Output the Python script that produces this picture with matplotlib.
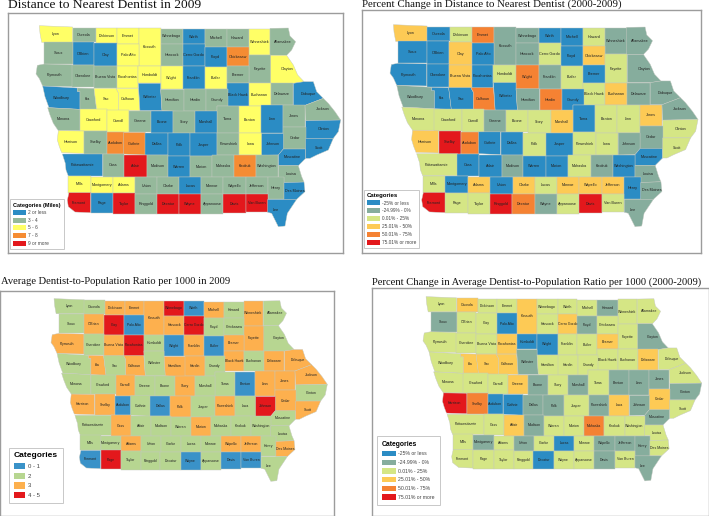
import matplotlib
matplotlib.use('Agg')
import matplotlib.pyplot as plt
from matplotlib.patches import Polygon, Patch

W = 709
H = 516


def rect(x0, x1, y0, y1):
    return [(x0, y0), (x1, y0), (x1, y1), (x0, y1)]


# county outlines
counties = {
    'Lyon': [(118, 77), (218, 81), (218, 127), (125, 127), (120, 100)],
    'Osceola': rect(218, 287, 83, 127),
    'Dickinson': rect(287, 352, 84, 130),
    'Emmet': rect(352, 417, 85, 132),
    'Kossuth': rect(417, 482, 85, 198),
    'Winnebago': rect(482, 549, 86, 133),
    'Worth': rect(549, 614, 86, 133),
    'Mitchell': rect(614, 680, 87, 142),
    'Howard': rect(680, 746, 87, 142),
    'Winneshiek': rect(746, 810, 86, 166),
    'Allamakee': [(810, 85), (865, 84), (870, 108), (887, 125), (875, 150), (860, 166), (810, 166)],
    'Sioux': rect(133, 218, 127, 192),
    "O'Brien": rect(218, 283, 127, 195),
    'Clay': rect(283, 350, 130, 198),
    'Palo Alto': rect(350, 417, 132, 198),
    'Hancock': rect(482, 549, 133, 198),
    'Cerro Gordo': rect(549, 614, 133, 198),
    'Floyd': rect(614, 680, 142, 200),
    'Chickasaw': rect(680, 746, 142, 198),
    'Fayette': rect(746, 812, 166, 250),
    'Clayton': [(812, 166), (860, 166), (880, 195), (893, 225), (912, 245), (880, 250), (812, 250)],
    'Plymouth': [(133, 192), (217, 194), (217, 260), (128, 258), (118, 236), (108, 222), (112, 196)],
    'Cherokee': rect(217, 283, 195, 262),
    'Buena Vista': rect(283, 350, 198, 265),
    'Pocahontas': rect(350, 415, 198, 265),
    'Humboldt': rect(415, 482, 198, 250),
    'Wright': rect(482, 549, 198, 268),
    'Franklin': rect(549, 614, 198, 268),
    'Butler': rect(614, 680, 200, 268),
    'Bremer': rect(680, 746, 198, 250),
    'Black Hawk': rect(680, 746, 250, 317),
    'Buchanan': rect(746, 812, 250, 317),
    'Delaware': rect(812, 880, 250, 316),
    'Dubuque': [(880, 250), (912, 245), (940, 245), (950, 275), (970, 295), (915, 316), (880, 316)],
    'Woodbury': [(128, 258), (232, 264), (232, 274), (240, 274), (240, 328), (147, 323), (135, 290)],
    'Ida': [(232, 264), (282, 265), (290, 330), (240, 328), (240, 274), (232, 274)],
    'Sac': [(282, 265), (348, 265), (355, 278), (355, 331), (290, 330)],
    'Calhoun': [(348, 265), (415, 265), (420, 332), (355, 331), (355, 278)],
    'Webster': [(415, 250), (482, 250), (482, 268), (486, 332), (420, 332)],
    'Hamilton': [(482, 268), (552, 268), (552, 334), (486, 332)],
    'Hardin': rect(552, 617, 268, 334),
    'Grundy': [(617, 268), (683, 268), (683, 318), (650, 318), (650, 334), (617, 334)],
    'Tama': rect(650, 717, 318, 398),
    'Benton': rect(717, 783, 318, 400),
    'Linn': rect(783, 850, 316, 400),
    'Jones': rect(850, 915, 316, 380),
    'Jackson': [(915, 316), (970, 295), (985, 310), (1005, 335), (1022, 360), (917, 362)],
    'Monona': [(143, 323), (240, 328), (240, 392), (175, 392), (160, 370), (150, 345)],
    'Crawford': rect(240, 322, 328, 393),
    'Carroll': rect(322, 386, 330, 397),
    'Greene': rect(386, 452, 332, 397),
    'Boone': rect(452, 518, 333, 398),
    'Story': rect(518, 585, 333, 400),
    'Marshall': rect(585, 650, 333, 400),
    'Clinton': [(917, 362), (1022, 360), (1015, 395), (1000, 415), (917, 415)],
    'Cedar': [(850, 380), (917, 380), (917, 447), (850, 447)],
    'Harrison': [(175, 392), (252, 393), (252, 460), (185, 458), (178, 440), (172, 420)],
    'Shelby': rect(252, 320, 393, 462),
    'Audubon': rect(320, 371, 397, 462),
    'Guthrie': [(371, 397), (436, 397), (436, 465), (371, 462)],
    'Dallas': rect(436, 503, 398, 465),
    'Polk': rect(503, 570, 400, 468),
    'Jasper': rect(570, 652, 400, 468),
    'Poweshiek': rect(652, 718, 398, 466),
    'Iowa': rect(718, 785, 400, 466),
    'Johnson': [(785, 400), (850, 400), (850, 447), (835, 465), (785, 466)],
    'Muscatine': [(835, 465), (850, 447), (917, 447), (917, 475), (895, 497), (835, 497)],
    'Scott': [(917, 415), (1000, 415), (985, 450), (950, 465), (930, 475), (917, 475)],
    'Pottawattamie': [(187, 462), (308, 462), (308, 528), (205, 528), (198, 510), (196, 490)],
    'Cass': rect(308, 373, 462, 530),
    'Adair': rect(373, 440, 465, 532),
    'Madison': rect(440, 504, 465, 532),
    'Warren': rect(504, 570, 468, 532),
    'Marion': rect(570, 636, 468, 532),
    'Mahaska': rect(636, 703, 466, 532),
    'Keokuk': rect(703, 769, 466, 532),
    'Washington': rect(769, 835, 466, 532),
    'Louisa': [(835, 497), (895, 497), (905, 530), (912, 546), (852, 548), (852, 532), (835, 532)],
    'Mills': rect(205, 272, 528, 578),
    'Montgomery': rect(272, 340, 530, 578),
    'Adams': rect(340, 405, 532, 580),
    'Union': rect(405, 472, 532, 582),
    'Clarke': rect(472, 538, 532, 582),
    'Lucas': rect(538, 604, 532, 582),
    'Monroe': rect(604, 670, 532, 582),
    'Wapello': rect(670, 737, 532, 582),
    'Jefferson': rect(737, 803, 532, 582),
    'Henry': rect(803, 852, 532, 598),
    'Des Moines': [(852, 548), (912, 546), (915, 575), (890, 598), (852, 598)],
    'Fremont': [(207, 578), (272, 578), (272, 638), (225, 636), (205, 620), (202, 600)],
    'Page': rect(272, 340, 578, 640),
    'Taylor': rect(340, 405, 580, 642),
    'Ringgold': rect(405, 470, 582, 642),
    'Decatur': rect(470, 537, 582, 642),
    'Wayne': rect(537, 603, 582, 642),
    'Appanoose': rect(603, 669, 582, 642),
    'Davis': rect(669, 737, 582, 640),
    'Van Buren': rect(737, 803, 582, 637),
    'Lee': [(803, 598), (890, 598), (862, 640), (855, 678), (835, 680), (815, 640), (803, 637)],
}

# county groups for each map, everything not named gets the default class
dist_blue = ['Worth', "O'Brien", 'Clay', 'Cerro Gordo', 'Floyd', 'Franklin', 'Woodbury', 'Webster',
             'Black Hawk', 'Dubuque', 'Boone', 'Marshall', 'Linn', 'Clinton', 'Dallas', 'Polk', 'Jasper',
             'Johnson', 'Scott', 'Muscatine', 'Pottawattamie', 'Warren', 'Lucas', 'Des Moines', 'Page', 'Lee']
dist_yellow = ['Lyon', 'Dickinson', 'Emmet', 'Kossuth', 'Winneshiek', 'Palo Alto', 'Pocahontas', 'Humboldt',
               'Wright', 'Butler', 'Clayton', 'Buchanan', 'Sac', 'Calhoun', 'Crawford', 'Carroll', 'Benton',
               'Harrison', 'Iowa', 'Mills', 'Montgomery', 'Adams']
dist_orange = ['Chickasaw', 'Audubon', 'Guthrie', 'Keokuk']
dist_red = ['Adair', 'Fremont', 'Taylor', 'Decatur', 'Wayne', 'Davis', 'Van Buren']

dchg_blue = ['Osceola', 'Worth', 'Mitchell', 'Sioux', "O'Brien", 'Palo Alto', 'Floyd', 'Plymouth', 'Cherokee',
             'Pocahontas', 'Bremer', 'Ida', 'Sac', 'Webster', 'Grundy', 'Tama', 'Guthrie', 'Dallas', 'Jasper',
             'Muscatine', 'Cass', 'Adair', 'Warren', 'Marion', 'Washington', 'Montgomery', 'Union', 'Henry']
dchg_teal = ['Kossuth', 'Winnebago', 'Hancock', 'Franklin', 'Winneshiek', 'Allamakee', 'Clayton', 'Delaware',
             'Dubuque', 'Woodbury', 'Hamilton', 'Jackson', 'Greene', 'Johnson', 'Cedar', 'Madison', 'Keokuk',
             'Louisa', 'Des Moines', 'Lee', 'Wayne']
dchg_yellow = ['Lyon', 'Clay', 'Chickasaw', 'Buena Vista', 'Buchanan', 'Marshall', 'Jones', 'Harrison', 'Adams',
               'Clarke', 'Monroe', 'Wapello', 'Jefferson']
dchg_orange = ['Emmet', 'Wright', 'Calhoun', 'Hardin', 'Audubon', 'Decatur']
dchg_red = ['Shelby', 'Fremont', 'Ringgold', 'Davis']

ratio_blue = ['Worth', 'Palo Alto', 'Wright', 'Butler', 'Benton', 'Audubon', 'Dallas', 'Fremont', 'Wayne',
              'Davis', 'Van Buren']
ratio_orange = ['Dickinson', 'Emmet', 'Kossuth', 'Mitchell', 'Winneshiek', "O'Brien", 'Hancock', 'Plymouth',
                'Buena Vista', 'Franklin', 'Bremer', 'Fayette', 'Black Hawk', 'Delaware', 'Dubuque', 'Ida',
                'Calhoun', 'Hamilton', 'Hardin', 'Jackson', 'Linn', 'Jones', 'Carroll', 'Story', 'Harrison',
                'Shelby', 'Polk', 'Poweshiek', 'Cedar', 'Scott', 'Cass', 'Marion', 'Adams', 'Wapello',
                'Jefferson', 'Des Moines']
ratio_red = ['Winnebago', 'Clay', 'Cerro Gordo', 'Pocahontas', 'Johnson', 'Page']

rchg_blue = ['Palo Alto', 'Humboldt', 'Wright', 'Audubon', 'Guthrie', 'Lucas', 'Decatur']
rchg_teal = ['Howard', 'Sioux', 'Floyd', 'Clayton', 'Webster', 'Boone', 'Marshall', 'Benton', 'Linn', 'Jones',
             'Clinton', 'Dallas', 'Polk', 'Poweshiek', 'Johnson', 'Muscatine', 'Madison', 'Montgomery', 'Union',
             'Wapello', 'Jefferson', 'Henry', 'Davis', 'Lee']
rchg_yellow = ['Osceola', 'Kossuth', 'Cerro Gordo', 'Pocahontas', 'Bremer', 'Ida', 'Sac', 'Calhoun', 'Greene',
               'Delaware', 'Iowa', 'Cedar', 'Adair']
rchg_orange = ['Shelby', 'Mahaska']
rchg_red = ['Harrison']

dist_labels = ['2 or less', '3 - 4', '5 - 6', '7 - 8', '9 or more']
chg_labels = ['-25% or less', '-24.99% - 0%', '0.01% - 25%', '25.01% - 50%', '50.01% - 75%', '75.01% or more']
ratio_labels = ['0 - 1', '2', '3', '4 - 5']

dist_colors = ['#2b8cc4', '#95b99b', '#ffff66', '#f58c33', '#e3181c']
chg_colors = ['#2b8cc4', '#86ad9d', '#d5e685', '#fdca55', '#f58233', '#e3181c']
ratio_colors = ['#3a92c8', '#b7d691', '#fdb04e', '#e3181c']


def draw_panel(title, title_xy, title_size, frame, origin, scale, groups, default, colors, labels,
               leg_title, leg_xy, leg_size, leg_title_size, leg_opts, name_size):
    x0, y0, x1, y1 = frame
    ax = fig.add_axes([x0 / W, 1 - y1 / H, (x1 - x0) / W, (y1 - y0) / H])
    # map units -> reference pixels
    ox, oy = origin
    sx, sy = scale
    ax.set_xlim((x0 - ox) / sx + 108, (x1 - ox) / sx + 108)
    ax.set_ylim((y1 - oy) / sy + 75, (y0 - oy) / sy + 75)
    ax.set_xticks([])
    ax.set_yticks([])
    for s in ax.spines.values():
        s.set_color('#9c9c9c')
        s.set_linewidth(1.0)

    for name, pts in counties.items():
        col = default
        for idx, grp in groups.items():
            if name in grp:
                col = idx
        ax.add_patch(Polygon(pts, closed=True, facecolor=colors[col], edgecolor='#c4c8c0', linewidth=0.3))
        xs = [p[0] for p in pts]
        ys = [p[1] for p in pts]
        cx = (min(xs) + max(xs)) / 2
        cy = (min(ys) + max(ys)) / 2
        if name == 'Lee':
            cx, cy = 828, 630
        ax.text(cx, cy, name, fontsize=name_size, ha='center', va='center', color='#222222',
                family='Liberation Sans')

    handles = [Patch(facecolor=c, edgecolor='none') for c in colors]
    lx, ly = leg_xy
    leg = ax.legend(handles, labels, title=leg_title, loc='lower left',
                    bbox_to_anchor=((lx - x0) / (x1 - x0), (y1 - ly) / (y1 - y0)), borderaxespad=0,
                    fancybox=False, edgecolor='#c8c8c8', framealpha=1, alignment='left',
                    prop={'family': 'Liberation Sans', 'size': leg_size},
                    title_fontproperties={'family': 'Liberation Sans', 'size': leg_title_size, 'weight': 'bold'},
                    **leg_opts)
    leg.get_frame().set_linewidth(0.7)
    for t in leg.get_texts():
        t.set_color('#444444')

    fig.text(title_xy[0] / W, 1 - title_xy[1] / H, title, fontsize=title_size, family='Liberation Serif',
             ha='left', va='center', color='#111111')


fig = plt.figure(figsize=(W / 100, H / 100), dpi=100)

draw_panel('Distance to Nearest Dentist in 2009', (8, 5), 9.7, (8, 13, 343, 253), (36, 25), (1 / 3, 1 / 3),
           {0: dist_blue, 2: dist_yellow, 3: dist_orange, 4: dist_red}, 1, dist_colors, dist_labels,
           'Categories (Miles)', (10, 249), 3.4, 4.0,
           dict(handlelength=2.7, handleheight=1.2, labelspacing=0.55, handletextpad=0.5, borderpad=0.7), 2.7)
draw_panel('Percent Change in Distance to Nearest Dentist (2000-2009)', (362, 4), 7.8, (362, 10, 701, 253),
           (390, 24), (1.011 / 3, 1.005 / 3),
           {0: dchg_blue, 1: dchg_teal, 3: dchg_yellow, 4: dchg_orange, 5: dchg_red}, 2, chg_colors, chg_labels,
           'Categories', (364, 248), 3.4, 4.3,
           dict(handlelength=2.7, handleheight=1.25, labelspacing=0.6, handletextpad=0.5, borderpad=0.6), 2.7)
draw_panel('Average Dentist-to-Population Ratio per 1000 in 2009', (1, 282), 7.55, (0, 291, 334, 516),
           (51, 298), (0.907 / 3, 0.909 / 3),
           {0: ratio_blue, 2: ratio_orange, 3: ratio_red}, 1, ratio_colors, ratio_labels,
           'Categories', (9, 503), 4.3, 6.0,
           dict(handlelength=1.9, handleheight=1.2, labelspacing=0.6, handletextpad=0.5, borderpad=0.8), 2.5)
draw_panel('Percent Change in Average Dentist-to-Population Ratio per 1000 (2000-2009)', (372, 282), 7.6,
           (372, 288, 709, 516), (423, 296), (0.915 / 3, 0.917 / 3),
           {0: rchg_blue, 1: rchg_teal, 3: rchg_yellow, 4: rchg_orange, 5: rchg_red}, 2, chg_colors, chg_labels,
           'Categories', (377, 505), 3.7, 4.9,
           dict(handlelength=2.7, handleheight=1.3, labelspacing=0.6, handletextpad=0.45, borderpad=1.0), 2.5)

fig.savefig('out.png', dpi=100)
